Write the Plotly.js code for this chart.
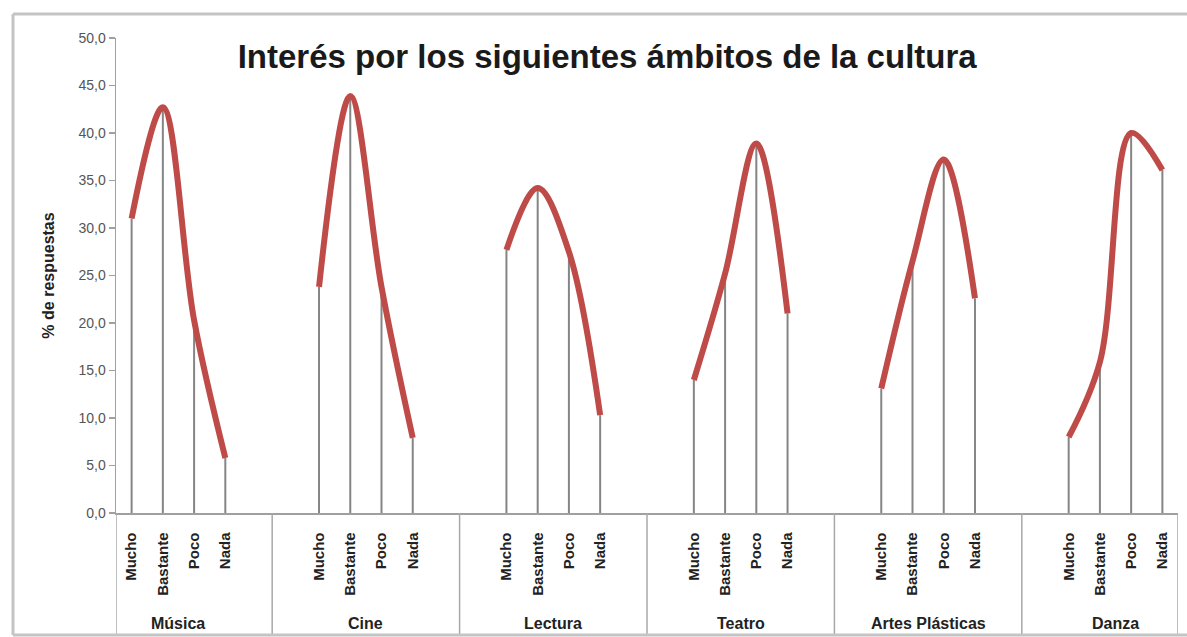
<!DOCTYPE html>
<html>
<head>
<meta charset="utf-8">
<script src="https://cdn.plot.ly/plotly-3.0.1.min.js"></script>
<style>
html,body{margin:0;padding:0;background:#fff;}
#chart{width:1187px;height:637px;}
</style>
</head>
<body>
<div id="chart"></div>
<script>
// ---- data ----
const categories = ['Mucho', 'Bastante', 'Poco', 'Nada'];
const groups = ['Música', 'Cine', 'Lectura', 'Teatro', 'Artes Plásticas', 'Danza'];
const musica  = [31.0, 42.7, 20.3, 5.8];
const cine    = [23.8, 43.9, 23.8, 7.9];
const lectura = [27.7, 34.2, 27.5, 10.3];
const teatro  = [14.0, 25.2, 38.9, 21.0];
const artes   = [13.1, 26.5, 37.2, 22.6];
const danza   = [8.0, 15.9, 40.0, 36.1];
const yTickValues = [0, 5, 10, 15, 20, 25, 30, 35, 40, 45, 50];
const yTickLabels = ['0,0', '5,0', '10,0', '15,0', '20,0', '25,0', '30,0', '35,0', '40,0', '45,0', '50,0'];
const titleText = 'Interés por los siguientes ámbitos de la cultura';
const yTitleText = '% de respuestas';

const series = [musica, cine, lectura, teatro, artes, danza];
const SLOTS_PER_GROUP = 6;
const FONT = 'Liberation Sans, Arial, Helvetica, sans-serif';

// positions of categories along the axis (one blank slot between groups on each side)
function pos(g, i) { return g * SLOTS_PER_GROUP + i; }

const traces = [];
// drop lines (stems)
const sx = [], sy = [];
series.forEach((vals, g) => {
  vals.forEach((v, i) => {
    sx.push(pos(g, i), pos(g, i), null);
    sy.push(0, v, null);
  });
});
traces.push({
  type: 'scatter', mode: 'lines', x: sx, y: sy,
  line: {color: '#858585', width: 2}, hoverinfo: 'skip', showlegend: false
});
// smoothed lines per group
series.forEach((vals, g) => {
  traces.push({
    type: 'scatter', mode: 'lines',
    x: vals.map((v, i) => pos(g, i)), y: vals,
    line: {color: '#bf4b48', width: 6, shape: 'spline', smoothing: 1},
    name: groups[g], showlegend: false, cliponaxis: false
  });
});

const tickvals = [], ticktext = [];
groups.forEach((gname, g) => categories.forEach((c, i) => { tickvals.push(pos(g, i)); ticktext.push(c); }));

const lastSlot = (groups.length - 1) * SLOTS_PER_GROUP + categories.length - 1;
const xmin = -0.5, xmax = lastSlot + 0.5;

const shapes = [];
const boundaries = [xmin];
for (let g = 0; g < groups.length - 1; g++) boundaries.push(pos(g, categories.length - 1) + 1.5);
boundaries.push(xmax);
boundaries.forEach(b => shapes.push({
  type: 'line', xref: 'x', yref: 'paper', x0: b, x1: b, y0: 0, y1: -0.257,
  line: {color: '#a8a8a8', width: 1.5}
}));
// outer chart border (left, top, bottom edges; right edge lies beyond the picture)
const border = {color: '#c4c4c4', width: 3};
shapes.push({type: 'line', xref: 'paper', yref: 'paper', x0: -0.097, x1: -0.097, y0: -0.257, y1: 1.0505, line: border});
shapes.push({type: 'line', xref: 'paper', yref: 'paper', x0: -0.097, x1: 1.02, y0: 1.0505, y1: 1.0505, line: border});
shapes.push({type: 'line', xref: 'paper', yref: 'paper', x0: -0.097, x1: 1.02, y0: -0.257, y1: -0.257, line: border});

const annotations = groups.map((gname, g) => ({
  x: (pos(g, 0) + pos(g, categories.length - 1)) / 2, xref: 'x',
  y: -0.2316, yref: 'paper', yanchor: 'middle', xanchor: 'center',
  text: gname, showarrow: false,
  font: {family: FONT, size: 16, color: '#222', weight: 'bold'}
}));

const layout = {
  width: 1187, height: 637,
  margin: {l: 116, r: 9, t: 38, b: 124},
  paper_bgcolor: '#ffffff', plot_bgcolor: '#ffffff',
  showlegend: false,
  title: {
    text: '<b>' + titleText + '</b>',
    x: 0.5115, xanchor: 'center', y: 0.912, yanchor: 'middle',
    font: {family: FONT, size: 33, color: '#1a1a1a'}
  },
  xaxis: {
    range: [xmin, xmax], showgrid: false, zeroline: false,
    showline: true, linecolor: '#a0a0a0', linewidth: 1.5,
    tickmode: 'array', tickvals: tickvals, ticktext: ticktext,
    tickangle: -90, ticks: 'outside', ticklen: 12, tickcolor: 'rgba(0,0,0,0)',
    tickfont: {family: FONT, size: 15, color: '#222', weight: 'bold'}
  },
  yaxis: {
    range: [0, 50], showgrid: false, zeroline: false,
    showline: true, linecolor: '#a0a0a0', linewidth: 1.5,
    tickmode: 'array', tickvals: yTickValues, ticktext: yTickLabels,
    ticks: 'outside', ticklen: 6, tickcolor: '#a0a0a0', tickwidth: 1.2,
    tickfont: {family: FONT, size: 14, color: '#555'},
    title: {text: '<b>' + yTitleText + '</b>', standoff: 20,
            font: {family: FONT, size: 16, color: '#222'}}
  },
  shapes: shapes,
  annotations: annotations
};

Plotly.newPlot('chart', traces, layout, {displayModeBar: false, staticPlot: true});
</script>
</body>
</html>
